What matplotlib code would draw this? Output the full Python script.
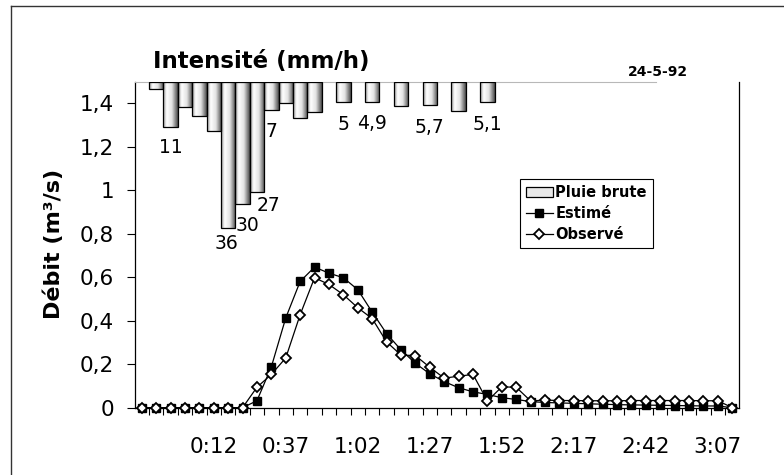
import numpy as np
import matplotlib.pyplot as plt
from matplotlib.colors import LinearSegmentedColormap
from matplotlib.lines import Line2D
from matplotlib.patches import Patch

# 5-minute steps, labels every 5th step
time_labels = ["0:12", "0:37", "1:02", "1:27", "1:52", "2:17", "2:42", "3:07"]
time_label_idx = [5, 10, 15, 20, 25, 30, 35, 40]

# débit (m3/s)
estime = [0, 0, 0, 0, 0, 0, 0, 0,
          0.032, 0.188, 0.413, 0.581, 0.647, 0.619, 0.598, 0.543, 0.440, 0.341,
          0.266, 0.204, 0.156, 0.120, 0.092, 0.073, 0.061, 0.046, 0.038, 0.028,
          0.024, 0.022, 0.020, 0.018, 0.016, 0.014, 0.013, 0.012, 0.011, 0.010,
          0.009, 0.008, 0.008, 0.0]
observe = [0, 0, 0, 0, 0, 0, 0, 0,
           0.094, 0.153, 0.229, 0.428, 0.598, 0.567, 0.520, 0.460, 0.410, 0.303,
           0.242, 0.240, 0.186, 0.136, 0.145, 0.153, 0.031, 0.096, 0.094, 0.031,
           0.035, 0.033, 0.033, 0.032, 0.032, 0.032, 0.033, 0.033, 0.033, 0.033,
           0.033, 0.032, 0.032, 0.0]

# intensité de pluie (mm/h)
pluie = [0, 1.8, 11, 6.2, 8.5, 12, 36, 30, 27, 7, 5.3, 9.0, 7.4, 0, 5, 0, 4.9, 0,
         5.9, 0, 5.7, 0, 7.2, 0, 5.1, 0, 0, 0, 0, 0, 0, 0, 0, 0, 0, 0, 0, 0,
         0, 0, 0, 0]

labelled_bars = [2, 6, 7, 8, 9, 14, 16, 20, 24]
labelled_text = ["11", "36", "30", "27", "7", "5", "4,9", "5,7", "5,1"]
label_offsets = [(0, -21), (-2, -15), (5, -22), (12, -14), (0, -21),
                 (0, -22), (0, -22), (0, -23), (0, -22)]

y_ticks = [0, 0.2, 0.4, 0.6, 0.8, 1.0, 1.2, 1.4]
y_tick_labels = ["0", "0,2", "0,4", "0,6", "0,8", "1", "1,2", "1,4"]

W, H = 784, 475
fig = plt.figure(figsize=(W / 100, H / 100), dpi=100)
ax = fig.add_axes([134.5 / W, 1 - 407.7 / H, 605 / W, 326 / H])

x = np.arange(len(estime))
l_est, = ax.plot(x, estime, color="black", lw=0.9, marker="s", ms=5.8,
                 mfc="black", mec="black", zorder=3, clip_on=False)
l_obs, = ax.plot(x, observe, color="black", lw=0.9, marker="D", ms=5.3,
                 mfc="white", mec="black", mew=1.3, zorder=4, clip_on=False)

# rain bars hanging from the top on an inverted secondary axis
ax2 = ax.twinx()
bar_x = [i for i, v in enumerate(pluie) if v > 0]
bar_v = [pluie[i] for i in bar_x]
bars = ax2.bar(bar_x, bar_v, width=1.0, color="none", edgecolor="black",
               lw=0.9, zorder=3)
cmap = LinearSegmentedColormap.from_list(
    "shade", [(0, "#9a9a9a"), (0.25, "#ffffff"), (0.6, "#e2e2e2"), (1, "#4a4a4a")])
grad = np.linspace(0, 1, 64).reshape(1, -1)
for rect in bars:
    x0, w, h = rect.get_x(), rect.get_width(), rect.get_height()
    ax2.imshow(grad, cmap=cmap, extent=(x0, x0 + w, h, 0), aspect="auto",
               interpolation="bilinear", zorder=2)

for i, txt, off in zip(labelled_bars, labelled_text, label_offsets):
    ax2.annotate(txt, xy=(i, pluie[i]), xytext=off, textcoords="offset pixels",
                 ha="center", va="center", fontsize=13.5)

ax.set_xlim(-0.5, len(x) - 0.5)
ax.set_ylim(0, 1.5)
ax2.set_ylim(80, 0)
ax2.set_yticks([])
for s in ax2.spines.values():
    s.set_visible(False)

ax.set_xticks(time_label_idx)
ax.set_xticklabels(time_labels)
ax.set_xticks(np.arange(0.5, len(x) - 1, 1), minor=True)
ax.tick_params(axis="x", which="major", length=0, pad=21, labelsize=15.5)
ax.tick_params(axis="x", which="minor", length=5, width=0.8, direction="out")
ax.set_yticks(y_ticks)
ax.set_yticklabels(y_tick_labels)
ax.tick_params(axis="y", length=5.8, width=0.8, pad=9, labelsize=15.5)

for side in ["left", "bottom", "right"]:
    ax.spines[side].set_linewidth(0.9)
ax.spines["top"].set_color("#b8b8b8")
ax.spines["top"].set_bounds(-0.5, 35.7)

fig.text(54 / W, 0.487, "Débit (m³/s)", rotation=90, ha="center", va="center",
         fontsize=16, fontweight="bold")
fig.text(153 / W, 1 - 68.3 / H, "Intensité (mm/h)", ha="left", va="baseline",
         fontsize=16.5, fontweight="bold")
fig.text(658 / W, 1 - 72.5 / H, "24-5-92", ha="center", va="center",
         fontsize=10, fontweight="bold")

handles = [Patch(facecolor="#e8e8e8", edgecolor="black", lw=0.9), l_est, l_obs]
leg = fig.legend(handles, ["Pluie brute", "Estimé", "Observé"], loc="upper left",
                 bbox_to_anchor=(520 / W, 1 - 179.3 / H), fancybox=False,
                 edgecolor="black", framealpha=1, prop={"weight": "bold", "size": 10.5},
                 handlelength=1.83, handletextpad=0.2, labelspacing=0.4,
                 borderpad=0.4, borderaxespad=0)
leg.get_frame().set_linewidth(0.8)

# outer frame (only left and top edges are visible)
fig.add_artist(Line2D([11 / W, 11 / W], [0, 1 - 6 / H], transform=fig.transFigure,
                      color="#333333", lw=1))
fig.add_artist(Line2D([11 / W, 1], [1 - 6 / H, 1 - 6 / H], transform=fig.transFigure,
                      color="#333333", lw=1))

fig.savefig("out.png", dpi=100)
